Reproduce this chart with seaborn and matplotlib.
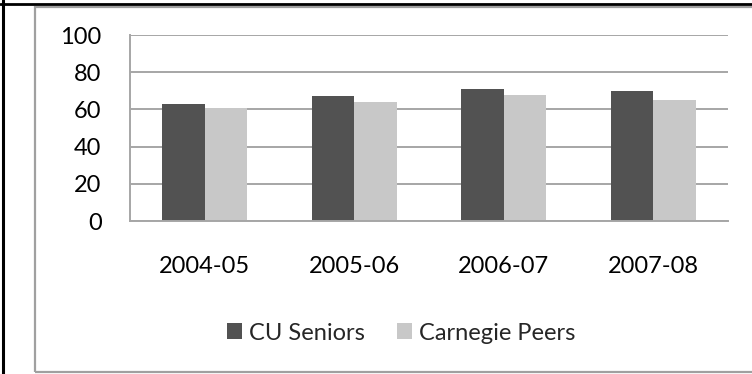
import matplotlib
matplotlib.use("Agg")
import matplotlib.pyplot as plt
from matplotlib.patches import Rectangle, Patch
from matplotlib.lines import Line2D
import seaborn as sns
import pandas as pd

# Survey results by academic year
years = ["2004-05", "2005-06", "2006-07", "2007-08"]
cu_seniors = [63, 67, 71, 70]
carnegie_peers = [61, 64, 68, 65]
groups = ["CU Seniors", "Carnegie Peers"]
y_ticks = [0, 20, 40, 60, 80, 100]

dark = "#525252"
light = "#c8c8c8"
grid_gray = "#a6a6a6"
FS = 17

sns.set_style("white")
plt.rcParams["font.family"] = ["Lato", "DejaVu Sans"]

df = pd.DataFrame({
    "Year": years * 2,
    "Value": cu_seniors + carnegie_peers,
    "Group": [groups[0]] * len(years) + [groups[1]] * len(years),
})

W, H = 752, 374
fig = plt.figure(figsize=(W / 100, H / 100), dpi=100)
fig.patch.set_facecolor("white")

# chart area border and outer frame lines
fig.patches.append(Rectangle((35 / W, 2 / H), (W + 20 - 35) / W, (H - 6.5 - 2) / H,
                             transform=fig.transFigure, facecolor="none",
                             edgecolor="#a0a0a0", linewidth=1.6, zorder=0))
fig.lines.append(Line2D([0, 1], [1 - 4 / H, 1 - 4 / H], transform=fig.transFigure,
                        color="black", linewidth=2.0))
fig.lines.append(Line2D([2.5 / W, 2.5 / W], [0, 1], transform=fig.transFigure,
                        color="black", linewidth=2.2))

ax = fig.add_axes([130 / W, (H - 221) / H, (728 - 130) / W, (221 - 35) / H])
sns.barplot(data=df, x="Year", y="Value", hue="Group", palette=[dark, light],
            width=0.57, gap=0, saturation=1, linewidth=0, ax=ax, legend=False,
            zorder=3)

ax.set_xlim(-0.5, len(years) - 0.5)
ax.set_ylim(0, 100)
ax.set_yticks(y_ticks)
ax.set_yticklabels([str(v) for v in y_ticks])
ax.set_xlabel("")
ax.set_ylabel("")

# tick marks sit between categories; labels centred under each group
ax.set_xticks([i - 0.5 for i in range(len(years) + 1)])
ax.set_xticklabels([""] * (len(years) + 1))
ax.set_xticks(range(len(years)), minor=True)
ax.set_xticklabels(years, minor=True)
ax.tick_params(axis="x", which="major", length=8, width=1.4, color=grid_gray,
               direction="out")
ax.tick_params(axis="x", which="minor", length=0, pad=25, labelsize=FS,
               labelcolor="black")
ax.tick_params(axis="y", length=8, width=1.4, color=grid_gray, direction="out",
               pad=12.5, labelsize=FS, labelcolor="black")

ax.yaxis.grid(True, color=grid_gray, linewidth=1.4)
ax.xaxis.grid(False)
ax.set_axisbelow(True)
for side in ["top", "right"]:
    ax.spines[side].set_visible(False)
for side in ["left", "bottom"]:
    ax.spines[side].set_color(grid_gray)
    ax.spines[side].set_linewidth(1.4)
    ax.spines[side].set_zorder(4)

handles = [Patch(facecolor=dark, edgecolor="none"),
           Patch(facecolor=light, edgecolor="none")]
fig.legend(handles, groups, loc="center", bbox_to_anchor=(401 / W, 1 - 333 / H),
           ncol=2, frameon=False, fontsize=FS, handlelength=0.65,
           handleheight=0.65, handletextpad=0.3, columnspacing=1.35,
           borderpad=0, borderaxespad=0)

fig.savefig("out.png", dpi=100, facecolor="white")
